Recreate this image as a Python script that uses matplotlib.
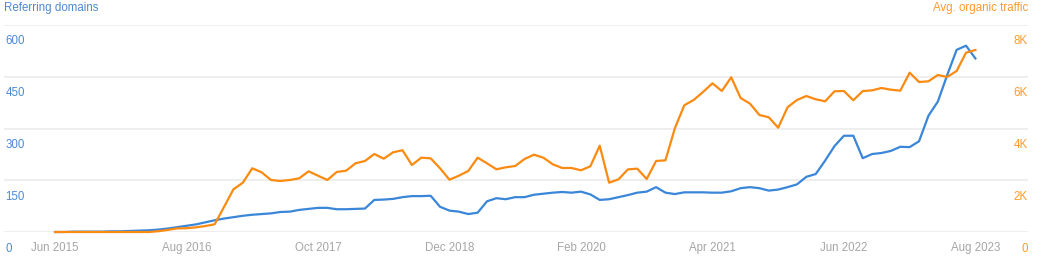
import matplotlib
matplotlib.use("Agg")
import matplotlib.pyplot as plt
from matplotlib.transforms import ScaledTranslation

plt.rcParams['font.family'] = ['Liberation Sans', 'DejaVu Sans']

# monthly values, Jun 2015 .. Aug 2023
domains = [0, 0, 1, 1, 1, 1, 2, 2, 3, 4,
           5, 7, 10, 14, 18, 22, 28, 34, 39, 43,
           47, 50, 52, 54, 58, 59, 64, 67, 70, 70,
           66, 66, 67, 68, 93, 94, 96, 101, 104, 104,
           105, 73, 62, 59, 52, 56, 89, 98, 95, 101,
           101, 108, 111, 114, 116, 114, 117, 109, 93, 95,
           101, 107, 114, 117, 130, 114, 110, 115, 115, 115,
           114, 114, 118, 127, 130, 127, 120, 123, 130, 138,
           160, 168, 207, 249, 279, 279, 214, 226, 229, 235,
           247, 246, 263, 337, 378, 455, 528, 540, 503]
traffic = [0, 0, 0, 0, 0, 0, 0, 0, 0, 0,
           0, 30, 80, 140, 145, 180, 230, 298, 970, 1650,
           1905, 2462, 2307, 2010, 1971, 2010, 2075, 2345, 2176, 2010,
           2320, 2370, 2655, 2744, 3015, 2833, 3080, 3160, 2590, 2872,
           2848, 2462, 2021, 2176, 2358, 2872, 2655, 2423, 2500, 2551,
           2822, 2988, 2872, 2617, 2474, 2474, 2385, 2539, 3335, 1905,
           2037, 2420, 2447, 2048, 2744, 2771, 4008, 4897, 5102, 5411,
           5747, 5450, 5979, 5180, 4960, 4522, 4433, 4031, 4820, 5102,
           5256, 5129, 5051, 5438, 5450, 5090, 5445, 5475, 5565, 5500,
           5462, 6157, 5797, 5824, 6068, 5991, 6223, 6930, 7034]
months = list(range(len(domains)))

xtick_pos = [0, 14, 28, 42, 56, 70, 84, 98]
xtick_lab = ['Jun 2015', 'Aug 2016', 'Oct 2017', 'Dec 2018',
             'Feb 2020', 'Apr 2021', 'Jun 2022', 'Aug 2023']
left_ticks = [0, 150, 300, 450, 600]
right_ticks = [0, 2000, 4000, 6000, 8000]
right_lab = ['0', '2K', '4K', '6K', '8K']

blue = '#3a86d8'
orange = '#fb8a10'
blue_txt = '#4d88d4'
orange_txt = '#fb9a30'
grey_txt = '#a6a6a6'

fig = plt.figure(figsize=(10.43, 2.72), dpi=100)
ax = fig.add_axes([4/1043, 40/272, 1024/1043, 207/272])
ax2 = ax.twinx()

ax.plot(months, domains, color=blue, lw=1.6, clip_on=False, zorder=3)
ax2.plot(months, traffic, color=orange, lw=1.6, clip_on=False, zorder=3)

ax.set_xlim(-5.43, 103.6)
ax.set_ylim(0, 600)
ax2.set_ylim(0, 8000)

for a in (ax, ax2):
    for s in a.spines.values():
        s.set_visible(False)

ax.set_yticks(left_ticks)
ax.set_yticklabels([str(v) for v in left_ticks])
ax.yaxis.grid(True, color='#ebebeb', lw=1.2)
ax.set_axisbelow(True)
ax.tick_params(axis='y', length=0, pad=-1, labelsize=8.3, labelcolor=blue_txt)
for lab in ax.get_yticklabels():
    lab.set_horizontalalignment('left')

ax2.set_yticks(right_ticks)
ax2.set_yticklabels(right_lab)
ax2.tick_params(axis='y', length=0, pad=0, labelsize=8.3, labelcolor=orange_txt)
for lab in ax2.get_yticklabels():
    lab.set_horizontalalignment('right')

ax.set_xticks(xtick_pos)
ax.set_xticklabels(xtick_lab)
ax.tick_params(axis='x', length=0, pad=7, labelsize=8.3, labelcolor=grey_txt)

shift = ScaledTranslation(0, -0.15, fig.dpi_scale_trans)
for lab in ax.get_yticklabels() + ax2.get_yticklabels():
    lab.set_transform(lab.get_transform() + shift)

fig.text(4/1043, 1 - 8/272, 'Referring domains', color=blue_txt, fontsize=8.3,
         ha='left', va='center')
fig.text(1028/1043, 1 - 8/272, 'Avg. organic traffic', color=orange_txt,
         fontsize=8.3, ha='right', va='center')

fig.savefig('out.png', dpi=100)
